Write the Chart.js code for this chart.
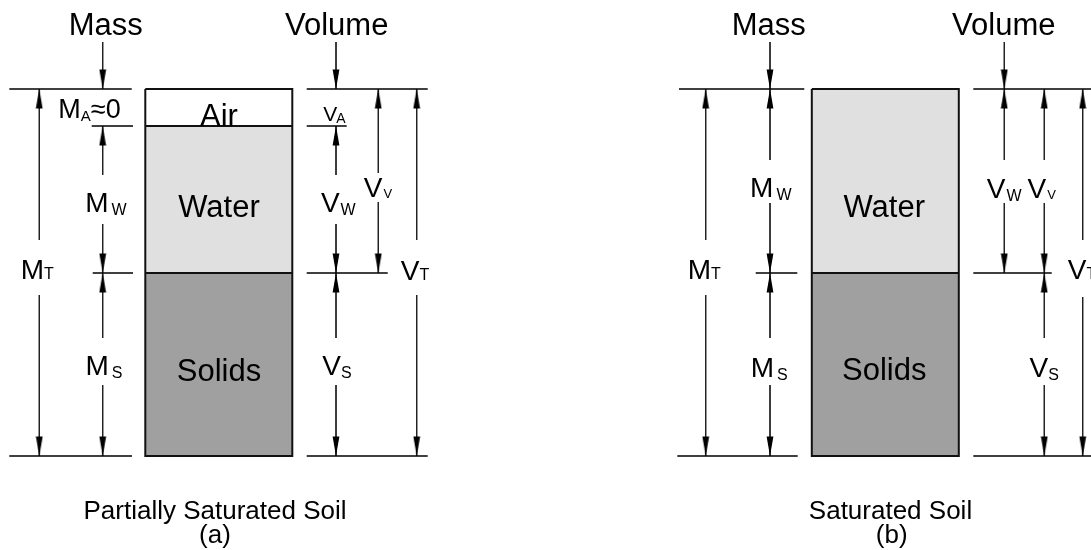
<!DOCTYPE html>
<html>
<head>
<meta charset="utf-8">
<script src="https://cdn.jsdelivr.net/npm/chart.js@4.4.0/dist/chart.umd.min.js"></script>
<style>
  html, body { margin: 0; padding: 0; background: #fff; }
  #wrap { width: 1091px; height: 550px; }
</style>
</head>
<body>
<div id="wrap"><canvas id="phaseChart" width="1091" height="550"></canvas></div>
<script>
// ---- data ----
// phase boundaries top to bottom: top of air, air|water, water|solids, bottom of solids
const phaseNames = ['Air', 'Water', 'Solids'];
const partialBounds = [89, 126, 273, 456];
const saturatedBounds = [89, 89, 273, 456];   // no air phase
const headers = ['Mass', 'Volume'];
const captionsA = ['Partially Saturated Soil', '(a)'];
const captionsB = ['Saturated Soil', '(b)'];
// dimension arrows: [symbol, subscript, from boundary, to boundary]
const dims = [['M', 'T', 0, 3], ['M', 'W', 1, 2], ['M', 'S', 2, 3],
              ['V', 'W', 1, 2], ['V', 'V', 0, 2], ['V', 'T', 0, 3], ['V', 'S', 2, 3]];
// air labels of panel (a), no arrows
const airLabels = [['M', 'A', '\u22480'], ['V', 'A', '']];

// ---- layout ----
const chartFont = '"Liberation Sans", Arial, Helvetica, sans-serif';
const phaseColors = ['#ffffff', '#e0e0e0', '#a0a0a0'];
const lineColor = '#000';

// [shaft x, gap top, gap bottom, label centre x, label baseline]
const dimLayoutA = [
  [39.3, 240, 295, 37.2, 279],
  [102.7, 175, 224, 106, 212],
  [102.7, 338, 385, 104, 375],
  [336, 175, 224, 338.3, 212],
  [378.3, 173, 202, 378, 197],
  [416.7, 240, 295, 415, 280],
  [336, 338, 385, 337, 375]
];
const dimLayoutB = [
  [39.2, 240, 295, 37.7, 278.5],
  [103.5, 160, 203, 104.3, 197],
  [103.5, 338, 385, 102.7, 377],
  [337.8, 160, 203, 337.7, 198],
  [377.8, 160, 203, 375.2, 198],
  [416.2, 240, 297, 415.5, 279],
  [377.8, 338, 385, 377.7, 377]
];
// subscript style by letter: [size, dy, gap after M, gap after V]
const subStyle = { T: [16, 0, 0, 0], W: [16, 3, 3, 1], S: [16, 3, 3, 0], V: [13, 1, 1, 1], A: [15, 3, 0, -1] };

// [boundary index, x from, x to]
const linesA = [[0, 9.3, 131.7], [1, 91.7, 133], [2, 92.7, 133], [3, 9.3, 132],
                [0, 306.7, 427.7], [1, 306.7, 346.7], [2, 306.7, 387.7], [3, 306.7, 427.7]];
const linesB = [[0, 12.5, 137.8], [2, 89.2, 130.8], [3, 10.8, 131.2],
                [0, 306.8, 430], [2, 306.8, 385.2], [3, 306.8, 430]];

const panels = [
  { dx: 0, bounds: partialBounds, dimLayout: dimLayoutA, lines: linesA, captions: captionsA,
    headerX: [[102.7, 105.8], [336, 336.7]], phaseX: 219, phaseY: [126, 217, 381], captionX: [215, 215] },
  { dx: 666.5, bounds: saturatedBounds, dimLayout: dimLayoutB, lines: linesB, captions: captionsB,
    headerX: [[103.5, 102.2], [337.8, 337.3]], phaseX: 217.7, phaseY: [126, 217, 380], captionX: [224, 225.2] }
];
const boxEdges = [145.3, 292.3];

// long narrow arrow head, tip at the centre of the image
function headImage() {
  const c = document.createElement('canvas');
  c.width = 8; c.height = 40;
  const g = c.getContext('2d');
  g.fillStyle = '#000';
  g.beginPath();
  g.moveTo(0.6, 0.5); g.lineTo(7.4, 0.5); g.lineTo(4, 20);
  g.closePath(); g.fill();
  return c;
}
const head = headImage();

function seg(pts, color, width, order) {
  return { data: pts.map(p => ({ x: p[0], y: p[1] })), borderColor: color, borderWidth: width,
           pointRadius: 0, tension: 0, fill: false, order: order };
}

const datasets = [];
const texts = [];
const upHeads = [];
const downHeads = [];

panels.forEach(p => {
  const b = p.bounds;
  const L = boxEdges[0] + p.dx, R = boxEdges[1] + p.dx;

  // phase fills
  phaseNames.forEach((name, i) => {
    if (b[i + 1] <= b[i]) return;
    datasets.push({ data: [{ x: L, y: b[i] }, { x: R, y: b[i] }], borderWidth: 0, pointRadius: 0,
                    backgroundColor: phaseColors[i], fill: { value: b[i + 1] }, order: 10 });
    texts.push({ cx: p.phaseX + p.dx, y: p.phaseY[i], parts: [{ text: name, size: 31 }] });
  });
  // box outline and interfaces
  datasets.push(seg([[L, b[0]], [R, b[0]], [R, b[3]], [L, b[3]], [L, b[0]]], '#111', 2, 2));
  for (let i = 1; i < 3; i++) {
    if (b[i] > b[0]) datasets.push(seg([[L, b[i]], [R, b[i]]], '#111', 2, 2));
  }
  // horizontal reference lines
  p.lines.forEach(l => datasets.push(seg([[l[1] + p.dx, b[l[0]]], [l[2] + p.dx, b[l[0]]]], lineColor, 1.3, 3)));

  // Mass / Volume headers with down arrows
  headers.forEach((h, i) => {
    const sx = p.headerX[i][0] + p.dx;
    datasets.push(seg([[sx, 42], [sx, b[0]]], '#222', 1, 3));
    downHeads.push({ x: sx, y: b[0] });
    texts.push({ cx: p.headerX[i][1] + p.dx, y: 35, parts: [{ text: h, size: 31 }] });
  });

  // dimension arrows
  dims.forEach((d, i) => {
    const [sx, g1, g2, cx, base] = p.dimLayout[i];
    const x0 = sx + p.dx;
    const top = b[d[2]], bot = b[d[3]];
    datasets.push(seg([[x0, top], [x0, g1]], '#222', 1, 3));
    datasets.push(seg([[x0, g2], [x0, bot]], '#222', 1, 3));
    upHeads.push({ x: x0, y: top });
    downHeads.push({ x: x0, y: bot });
    const st = subStyle[d[1]];
    texts.push({ cx: cx + p.dx, y: base, parts: [
      { text: d[0], size: 28 },
      { text: d[1], size: st[0], dy: st[1], gap: d[0] === 'M' ? st[2] : st[3] }
    ] });
  });
  // captions
  texts.push({ cx: p.captionX[0] + p.dx, y: 519, parts: [{ text: p.captions[0], size: 26 }] });
  texts.push({ cx: p.captionX[1] + p.dx, y: 543, parts: [{ text: p.captions[1], size: 26 }] });
});

// air labels, panel (a) only
texts.push({ cx: 89.5, y: 118, parts: [
  { text: airLabels[0][0], size: 27 },
  { text: airLabels[0][1], size: 15, dy: 3 },
  { text: airLabels[0][2], size: 27 }
] });
texts.push({ cx: 334.5, y: 121, parts: [
  { text: airLabels[1][0], size: 21 },
  { text: airLabels[1][1], size: 14, dy: 2, gap: -1 }
] });

datasets.push({ data: upHeads, showLine: false, pointStyle: head, pointRadius: 4, pointRotation: 180, order: 0 });
datasets.push({ data: downHeads, showLine: false, pointStyle: head, pointRadius: 4, pointRotation: 0, order: 0 });

const labelPlugin = {
  id: 'phaseLabels',
  afterDatasetsDraw(chart) {
    const { ctx, scales: { x, y } } = chart;
    ctx.save();
    ctx.fillStyle = '#000';
    ctx.textBaseline = 'alphabetic';
    ctx.textAlign = 'left';
    texts.forEach(t => {
      const widths = t.parts.map(pt => {
        ctx.font = pt.size + 'px ' + chartFont;
        return ctx.measureText(pt.text).width;
      });
      let total = 0;
      t.parts.forEach((pt, i) => { total += widths[i] + (pt.gap || 0); });
      let px = x.getPixelForValue(t.cx) - total / 2;
      t.parts.forEach((pt, i) => {
        px += pt.gap || 0;
        ctx.font = pt.size + 'px ' + chartFont;
        ctx.fillText(pt.text, px, y.getPixelForValue(t.y + (pt.dy || 0)));
        px += widths[i];
      });
    });
    ctx.restore();
  }
};

new Chart(document.getElementById('phaseChart'), {
  type: 'line',
  data: { datasets: datasets },
  options: {
    responsive: false,
    animation: false,
    events: [],
    layout: { padding: 0, autoPadding: false },
    plugins: { legend: { display: false }, tooltip: { enabled: false } },
    scales: {
      x: { type: 'linear', min: 0, max: 1091, display: false },
      y: { type: 'linear', min: 0, max: 550, reverse: true, display: false }
    }
  },
  plugins: [labelPlugin]
});
</script>
</body>
</html>
